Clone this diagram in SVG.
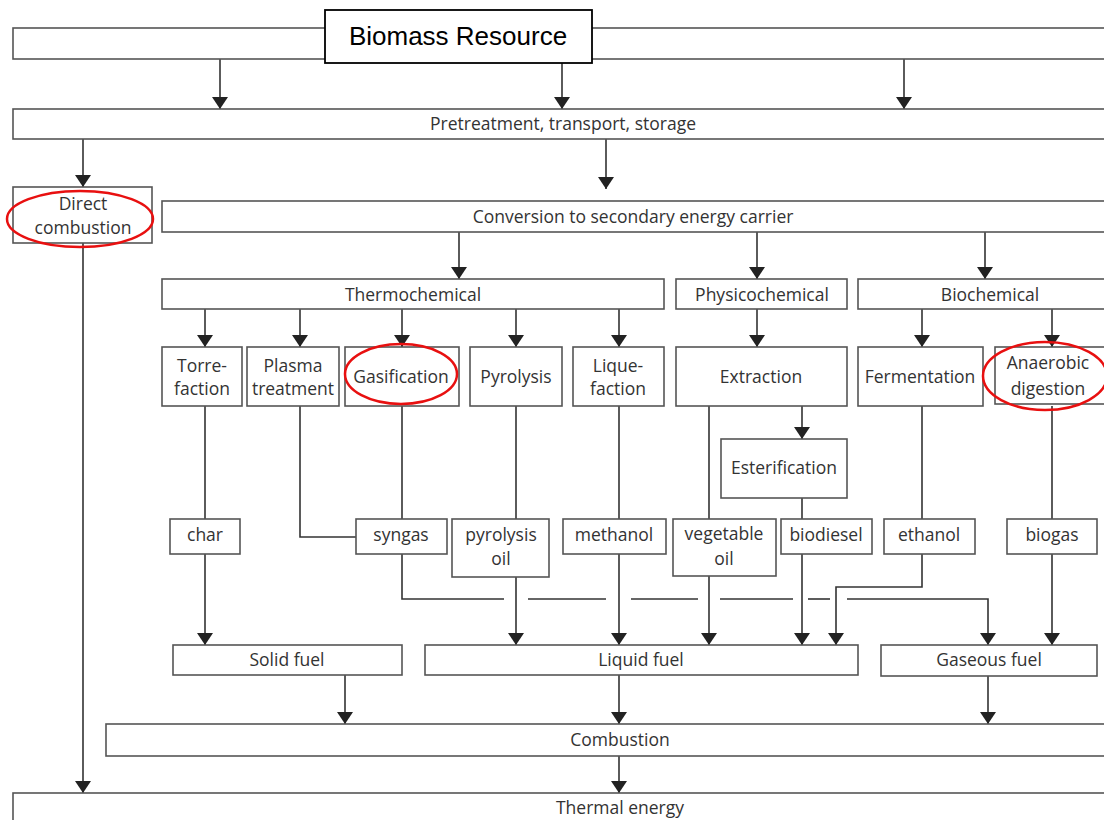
<svg xmlns="http://www.w3.org/2000/svg" width="1104" height="820" viewBox="0 0 1104 820">
<defs>
<marker id="ah" viewBox="0 0 12 16" refX="12" refY="8" markerWidth="12" markerHeight="16" markerUnits="userSpaceOnUse" orient="auto">
<path d="M0,0 L12,8 L0,16 z" fill="#222"/>
</marker>
<style>
.box{fill:#fff;stroke:#555;stroke-width:1.6}
.t{font-family:"Open Sans","Noto Sans",sans-serif;font-size:17.5px;fill:#333;text-anchor:middle}
.c{fill:none;stroke:#333;stroke-width:1.6}
.a{fill:none;stroke:#333;stroke-width:1.6;marker-end:url(#ah)}
.hl{fill:none;stroke:#e81010;stroke-width:2.5}
</style>
</defs>
<rect width="1104" height="820" fill="#fff"/>

<g id="connectors">
<line class="a" x1="220" y1="59" x2="220" y2="109"/>
<line class="a" x1="562" y1="63" x2="562" y2="109"/>
<line class="a" x1="904" y1="59" x2="904" y2="109"/>
<line class="a" x1="83" y1="139" x2="83" y2="187"/>
<line class="a" x1="606" y1="139" x2="606" y2="189"/>
<line class="a" x1="459" y1="232" x2="459" y2="279"/>
<line class="a" x1="757" y1="232" x2="757" y2="279"/>
<line class="a" x1="985" y1="232" x2="985" y2="279"/>
<line class="a" x1="205" y1="309" x2="205" y2="347"/>
<line class="a" x1="300" y1="309" x2="300" y2="347"/>
<line class="a" x1="402" y1="309" x2="402" y2="347"/>
<line class="a" x1="516" y1="309" x2="516" y2="347"/>
<line class="a" x1="619" y1="309" x2="619" y2="347"/>
<line class="a" x1="757" y1="309" x2="757" y2="347"/>
<line class="a" x1="922" y1="309" x2="922" y2="347"/>
<line class="a" x1="1052" y1="309" x2="1052" y2="347"/>
<line class="a" x1="802" y1="406" x2="802" y2="439"/>
<line class="c" x1="205" y1="406" x2="205" y2="519"/>
<polyline class="c" points="300,406 300,537 356,537"/>
<line class="c" x1="402" y1="406" x2="402" y2="519"/>
<line class="c" x1="516" y1="406" x2="516" y2="519"/>
<line class="c" x1="619" y1="406" x2="619" y2="519"/>
<line class="c" x1="709" y1="406" x2="709" y2="519"/>
<line class="c" x1="802" y1="498" x2="802" y2="519"/>
<line class="c" x1="922" y1="406" x2="922" y2="519"/>
<line class="c" x1="1052" y1="406" x2="1052" y2="519"/>
<line class="a" x1="205" y1="554" x2="205" y2="645"/>
<polyline class="c" points="402,554 402,599 504,599"/>
<line class="c" x1="528" y1="599" x2="606" y2="599"/>
<line class="c" x1="631" y1="599" x2="698" y2="599"/>
<line class="c" x1="720" y1="599" x2="793" y2="599"/>
<line class="c" x1="808" y1="599" x2="830" y2="599"/>
<polyline class="a" points="847,599 988,599 988,645"/>
<line class="a" x1="516" y1="577" x2="516" y2="645"/>
<line class="a" x1="619" y1="554" x2="619" y2="645"/>
<line class="a" x1="709" y1="576" x2="709" y2="645"/>
<line class="a" x1="802" y1="554" x2="802" y2="645"/>
<polyline class="a" points="922,554 922,587 836,587 836,645"/>
<line class="a" x1="1052" y1="554" x2="1052" y2="645"/>
<line class="a" x1="345" y1="675" x2="345" y2="724"/>
<line class="a" x1="619" y1="675" x2="619" y2="724"/>
<line class="a" x1="988" y1="676" x2="988" y2="724"/>
<line class="a" x1="619" y1="756" x2="619" y2="793"/>
<line class="a" x1="83" y1="243" x2="83" y2="793"/>
</g>

<g id="top-bar"><rect class="box" x="13" y="28" width="1100" height="31"/></g>
<g id="biomass-resource"><rect x="325" y="10" width="267" height="53" fill="#fff" stroke="#000" stroke-width="1.8"/>
<text x="458" y="45" font-family="'Liberation Sans',Arial,sans-serif" font-size="26" fill="#000" text-anchor="middle">Biomass Resource</text></g>

<g id="pretreatment"><rect class="box" x="13" y="109" width="1100" height="30"/><text class="t" x="563" y="130">Pretreatment, transport, storage</text></g>
<g id="direct-combustion"><rect class="box" x="13" y="187" width="139" height="56"/><text class="t" x="83" y="210">Direct</text><text class="t" x="83" y="234">combustion</text></g>
<g id="conversion"><rect class="box" x="162" y="201" width="950" height="31"/><text class="t" x="633" y="223">Conversion to secondary energy carrier</text></g>

<g id="thermochemical"><rect class="box" x="162" y="279" width="502" height="30"/><text class="t" x="413" y="301">Thermochemical</text></g>
<g id="physicochemical"><rect class="box" x="676" y="279" width="171" height="30"/><text class="t" x="762" y="301">Physicochemical</text></g>
<g id="biochemical"><rect class="box" x="858" y="279" width="254" height="30"/><text class="t" x="990" y="301">Biochemical</text></g>

<g id="torrefaction"><rect class="box" x="162" y="347" width="80" height="59"/><text class="t" x="202" y="372">Torre-</text><text class="t" x="202" y="395">faction</text></g>
<g id="plasma-treatment"><rect class="box" x="247" y="347" width="92" height="59"/><text class="t" x="293" y="372">Plasma</text><text class="t" x="293" y="395">treatment</text></g>
<g id="gasification"><rect class="box" x="345" y="347" width="114" height="59"/><text class="t" x="401" y="383">Gasification</text></g>
<g id="pyrolysis"><rect class="box" x="470" y="347" width="92" height="59"/><text class="t" x="516" y="383">Pyrolysis</text></g>
<g id="liquefaction"><rect class="box" x="573" y="347" width="91" height="59"/><text class="t" x="618" y="372">Lique-</text><text class="t" x="618" y="395">faction</text></g>
<g id="extraction"><rect class="box" x="676" y="347" width="171" height="59"/><text class="t" x="761" y="383">Extraction</text></g>
<g id="fermentation"><rect class="box" x="858" y="347" width="125" height="59"/><text class="t" x="920" y="383">Fermentation</text></g>
<g id="anaerobic-digestion"><rect class="box" x="995" y="347" width="117" height="57"/><text class="t" x="1048" y="369">Anaerobic</text><text class="t" x="1048" y="395">digestion</text></g>
<g id="esterification"><rect class="box" x="721" y="439" width="126" height="59"/><text class="t" x="784" y="474">Esterification</text></g>

<g id="char"><rect class="box" x="170" y="519" width="70" height="35"/><text class="t" x="205" y="541">char</text></g>
<g id="syngas"><rect class="box" x="356" y="519" width="91" height="35"/><text class="t" x="401" y="541">syngas</text></g>
<g id="pyrolysis-oil"><rect class="box" x="452" y="519" width="97" height="58"/><text class="t" x="501" y="541">pyrolysis</text><text class="t" x="501" y="565">oil</text></g>
<g id="methanol"><rect class="box" x="563" y="519" width="103" height="35"/><text class="t" x="614" y="541">methanol</text></g>
<g id="vegetable-oil"><rect class="box" x="673" y="519" width="103" height="57"/><text class="t" x="724" y="540">vegetable</text><text class="t" x="724" y="565">oil</text></g>
<g id="biodiesel"><rect class="box" x="781" y="519" width="91" height="35"/><text class="t" x="826" y="541">biodiesel</text></g>
<g id="ethanol"><rect class="box" x="884" y="519" width="91" height="35"/><text class="t" x="929" y="541">ethanol</text></g>
<g id="biogas"><rect class="box" x="1007" y="519" width="90" height="35"/><text class="t" x="1052" y="541">biogas</text></g>

<g id="solid-fuel"><rect class="box" x="173" y="645" width="229" height="30"/><text class="t" x="287" y="666">Solid fuel</text></g>
<g id="liquid-fuel"><rect class="box" x="425" y="645" width="433" height="30"/><text class="t" x="641" y="666">Liquid fuel</text></g>
<g id="gaseous-fuel"><rect class="box" x="881" y="645" width="216" height="31"/><text class="t" x="989" y="666">Gaseous fuel</text></g>
<g id="combustion"><rect class="box" x="106" y="724" width="1006" height="32"/><text class="t" x="620" y="746">Combustion</text></g>
<g id="thermal-energy"><rect class="box" x="13" y="793" width="1100" height="40"/><text class="t" x="620" y="814">Thermal energy</text></g>

<g id="highlights">
<ellipse class="hl" cx="80" cy="219" rx="73" ry="28"/>
<ellipse class="hl" cx="401" cy="374" rx="56" ry="30"/>
<ellipse class="hl" cx="1045" cy="376" rx="62" ry="34"/>
</g>
</svg>
